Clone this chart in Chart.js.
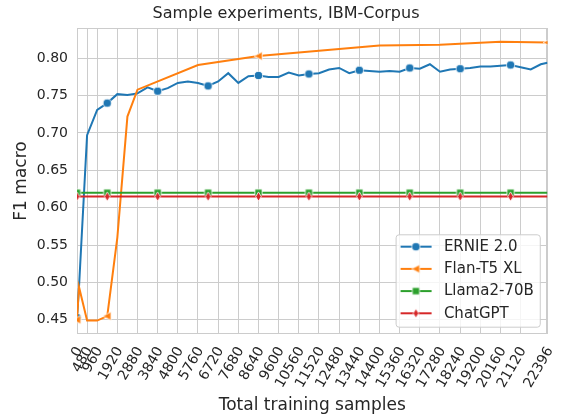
<!DOCTYPE html>
<html>
<head>
<meta charset="utf-8">
<script src="https://cdn.jsdelivr.net/npm/chart.js@4.4.0/dist/chart.umd.min.js"></script>
<style>
  html, body { margin: 0; padding: 0; background: #fff; }
  canvas { display: block; }
</style>
</head>
<body>
<canvas id="myChart" width="572" height="420"></canvas>
<script>

// x values shared by ERNIE and the two flat baselines
var sampleX = [0, 96, 480, 960, 1440, 1920, 2400, 2880, 3360, 3840,
    4320, 4800, 5280, 5760, 6240, 6720, 7200, 7680, 8160, 8640,
    9120, 9600, 10080, 10560, 11040, 11520, 12000, 12480, 12960, 13440,
    13920, 14400, 14880, 15360, 15840, 16320, 16800, 17280, 17760, 18240,
    18720, 19200, 19680, 20160, 20640, 21120, 21600, 22080, 22396];

var ernieF1 = [0.453, 0.494, 0.697, 0.731, 0.740, 0.752, 0.751, 0.753, 0.761, 0.756,
    0.760, 0.767, 0.769, 0.767, 0.763, 0.769, 0.780, 0.767, 0.776, 0.777,
    0.775, 0.775, 0.781, 0.777, 0.779, 0.780, 0.785, 0.787, 0.780, 0.784,
    0.783, 0.782, 0.783, 0.782, 0.787, 0.786, 0.792, 0.782, 0.785, 0.786,
    0.787, 0.789, 0.789, 0.790, 0.791, 0.788, 0.785, 0.792, 0.794];

var flanX = [0, 96, 480, 960, 1440, 1920, 2400, 2880, 5760, 8640, 14400, 17280, 20160, 22396];
var flanF1 = [0.450, 0.494, 0.449, 0.449, 0.455, 0.560, 0.722, 0.758, 0.791, 0.803, 0.817, 0.818, 0.822, 0.821];

var llamaF1 = 0.620;
var chatgptF1 = 0.615;

// where the markers sit
var markerX = [0, 1440, 3840, 6240, 8640, 11040, 13440, 15840, 18240, 20640];
var flanMarkerX = [0, 1440, 8640, 22396];

var xTicks = [0, 480, 960, 1920, 2880, 3840, 4800, 5760, 6720, 7680, 8640, 9600, 10560,
    11520, 12480, 13440, 14400, 15360, 16320, 17280, 18240, 19200, 20160, 21120, 22396];
var yTicks = [0.45, 0.50, 0.55, 0.60, 0.65, 0.70, 0.75, 0.80];

var textColor = '#262626';
var gridColor = '#cccccc';
Chart.defaults.font.family = '"DejaVu Sans", sans-serif';
Chart.defaults.color = textColor;

function makeMarker(kind, color) {
    var c = document.createElement('canvas');
    c.width = 11; c.height = 11;
    var g = c.getContext('2d');
    g.fillStyle = color;
    g.strokeStyle = '#ffffff';
    g.lineWidth = 0.8;
    g.beginPath();
    if (kind == 'circle') {
        g.arc(5.5, 5.5, 4.1, 0, Math.PI * 2);
    } else if (kind == 'tri') {
        g.moveTo(1.2, 5.5); g.lineTo(9.2, 1.3); g.lineTo(9.2, 9.7); g.closePath();
    } else if (kind == 'square') {
        g.rect(1.9, 1.9, 7.2, 7.2);
    } else {
        g.moveTo(5.5, 0.9); g.lineTo(8.3, 5.5); g.lineTo(5.5, 10.1); g.lineTo(2.7, 5.5); g.closePath();
    }
    g.fill();
    g.stroke();
    return c;
}

function points(xs, ys) {
    return xs.map(function(x, i) { return {x: x, y: ys[i]}; });
}

function radiusAt(list) {
    return function(c) {
        return c.raw && list.indexOf(c.raw.x) >= 0 ? 4 : 0;
    };
}

var frame = {
    id: 'frame',
    beforeDatasetsDraw: function(chart) {
        var a = chart.chartArea, ctx = chart.ctx;
        ctx.save();
        ctx.strokeStyle = gridColor;
        ctx.lineWidth = 1;
        ctx.strokeRect(Math.round(a.left) + 0.5, Math.round(a.top) + 0.5,
            Math.round(a.right - a.left) - 1, Math.round(a.bottom - a.top) - 1);
        ctx.restore();
    }
};

var boxLegend = {
    id: 'boxLegend',
    afterDraw: function(chart) {
        var ctx = chart.ctx, a = chart.chartArea;
        var sets = chart.data.datasets;
        ctx.save();
        ctx.font = '15px "DejaVu Sans"';
        var textW = Math.max.apply(null, sets.map(function(d) { return ctx.measureText(d.label).width; }));
        var rowH = 22.2;
        var w = 48.3 + textW + 6;
        var h = rowH * (sets.length - 1) + 25.8;
        var right = a.right - 7.7, bottom = a.bottom - 7.3;
        var left = right - w, top = bottom - h;

        ctx.beginPath();
        ctx.roundRect(left + 0.5, top + 0.5, w, h, 3);
        ctx.fillStyle = 'rgba(255,255,255,0.8)';
        ctx.fill();
        ctx.strokeStyle = gridColor;
        ctx.lineWidth = 1;
        ctx.stroke();

        sets.forEach(function(d, i) {
            var y = top + 12.4 + i * rowH;
            ctx.beginPath();
            ctx.moveTo(left + 5, y);
            ctx.lineTo(left + 36, y);
            ctx.strokeStyle = d.borderColor;
            ctx.lineWidth = 2;
            ctx.stroke();
            ctx.drawImage(d.pointStyle, left + 20.3 - 5.5, y - 5.5);
            ctx.fillStyle = textColor;
            ctx.textBaseline = 'middle';
            ctx.textAlign = 'left';
            ctx.fillText(d.label, left + 48.3, y + 0.5);
        });
        ctx.restore();
    }
};

document.addEventListener("DOMContentLoaded", function() {

    var ctx = document.getElementById("myChart").getContext("2d");

    var data = {
        datasets: [{
            label: "ERNIE 2.0",
            data: points(sampleX, ernieF1),
            borderColor: "#1f77b4",
            pointStyle: makeMarker('circle', '#1f77b4'),
            pointRadius: radiusAt(markerX),
            order: 3
        }, {
            label: "Flan-T5 XL",
            data: points(flanX, flanF1),
            borderColor: "#ff7f0e",
            pointStyle: makeMarker('tri', '#ff7f0e'),
            pointRadius: radiusAt(flanMarkerX),
            order: 2
        }, {
            label: "Llama2-70B",
            data: sampleX.map(function(x) { return {x: x, y: llamaF1}; }),
            borderColor: "#2ca02c",
            pointStyle: makeMarker('square', '#2ca02c'),
            pointRadius: radiusAt(markerX),
            order: 1
        }, {
            label: "ChatGPT",
            data: sampleX.map(function(x) { return {x: x, y: chatgptF1}; }),
            borderColor: "#d62728",
            pointStyle: makeMarker('diamond', '#d62728'),
            pointRadius: radiusAt(markerX),
            order: 0
        }]
    };

    var options = {
        responsive: false,
        animation: false,
        events: [],
        layout: { padding: { left: 24, right: 24, top: 0, bottom: 0 } },
        elements: {
            line: { borderWidth: 2, tension: 0 },
            point: { hoverRadius: 0 }
        },
        plugins: {
            legend: { display: false },
            tooltip: { enabled: false },
            title: {
                display: true,
                text: "Sample experiments, IBM-Corpus",
                color: textColor,
                font: { size: 16, weight: 'normal' },
                padding: { top: 4, bottom: 4.8 }
            }
        },
        scales: {
            x: {
                type: 'linear',
                min: 0,
                max: 22396,
                afterBuildTicks: function(s) {
                    s.ticks = xTicks.map(function(v) { return {value: v}; });
                },
                afterFit: function(s) { s.height = 86; },
                grid: { color: gridColor, drawTicks: false },
                border: { display: false },
                ticks: {
                    autoSkip: false,
                    minRotation: 60,
                    maxRotation: 60,
                    padding: 10,
                    labelOffset: 2.5,
                    color: textColor,
                    font: { size: 14 },
                    callback: function(v) { return String(v); }
                },
                title: {
                    display: true,
                    text: "Total training samples",
                    color: textColor,
                    font: { size: 17 },
                    padding: { top: 0, bottom: 4 }
                }
            },
            y: {
                min: 0.431,
                max: 0.8405,
                afterBuildTicks: function(s) {
                    s.ticks = yTicks.map(function(v) { return {value: v}; });
                },
                afterFit: function(s) { s.width = 53; },
                grid: { color: gridColor, drawTicks: false },
                border: { display: false },
                ticks: {
                    padding: 9,
                    color: textColor,
                    font: { size: 14 },
                    callback: function(v) { return v.toFixed(2); }
                },
                title: {
                    display: true,
                    text: "F1 macro",
                    color: textColor,
                    font: { size: 17 },
                    padding: { top: -12.5, bottom: 0 }
                }
            }
        }
    };

    var myChart = new Chart(ctx, {
        type: 'line',
        data: data,
        options: options,
        plugins: [frame, boxLegend]
    });
});
</script>
</body>
</html>
